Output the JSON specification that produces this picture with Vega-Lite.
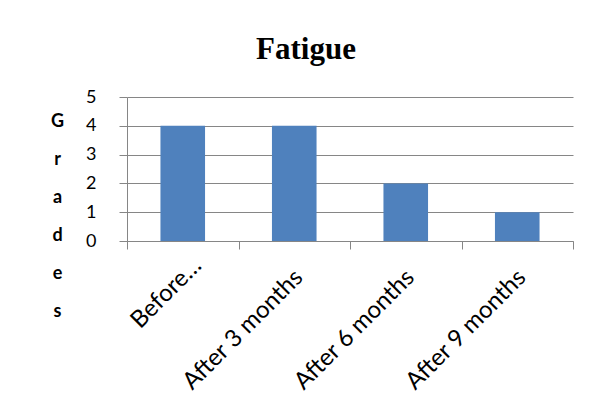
{
  "$schema": "https://vega.github.io/schema/vega-lite/v6.json",
  "width": 446,
  "height": 144,
  "autosize": {"type": "none"},
  "padding": {"left": 127, "top": 97, "right": 31, "bottom": 174},
  "background": "white",
  "title": {
    "text": "Fatigue",
    "font": "Liberation Serif",
    "fontSize": 31,
    "fontWeight": "bold",
    "color": "black",
    "anchor": "middle",
    "dx": -44,
    "offset": -2,
    "baseline": "alphabetic"
  },
  "data": {
    "values": [
      {"stage": "Before…", "grade": 4},
      {"stage": "After  3 months", "grade": 4},
      {"stage": "After 6 months", "grade": 2},
      {"stage": "After 9 months", "grade": 1}
    ]
  },
  "mark": {"type": "bar", "color": "#4F81BD", "width": {"band": 0.4}},
  "encoding": {
    "x": {
      "field": "stage",
      "type": "nominal",
      "sort": null,
      "scale": {"paddingInner": 0, "paddingOuter": 0},
      "axis": {
        "title": null,
        "tickBand": "extent",
        "tickSize": 8,
        "tickColor": "#868686",
        "domainColor": "#868686",
        "labelAngle": -45,
        "labelAlign": "right",
        "labelBaseline": "top",
        "labelOffset": {"condition": {"test": "datum.value === 'Before…'", "value": 6}, "value": -4},
        "labelPadding": {"condition": {"test": "datum.value === 'Before…'", "value": 4}, "value": 16},
        "labelFont": "Lato",
        "labelFontSize": 24,
        "labelColor": "black",
        "labelLimit": 300,
        "grid": false
      }
    },
    "y": {
      "field": "grade",
      "type": "quantitative",
      "scale": {"domain": [0, 5], "nice": false},
      "axis": {
        "values": [0, 1, 2, 3, 4, 5],
        "tickSize": 8,
        "tickColor": "#868686",
        "domainColor": "#868686",
        "gridColor": "#868686",
        "labelFont": "Lato",
        "labelFontSize": 18,
        "labelColor": "black",
        "labelPadding": 23,
        "title": ["G", "r", "a", "d", "e", "s"],
        "titleAngle": 0,
        "titleAlign": "center",
        "titleBaseline": "alphabetic",
        "titleX": -70,
        "titleY": 29,
        "titleLineHeight": 38,
        "titleFont": "Lato",
        "titleFontSize": 18,
        "titleFontWeight": "bold",
        "titleColor": "black"
      }
    }
  },
  "config": {"view": {"stroke": null}}
}
